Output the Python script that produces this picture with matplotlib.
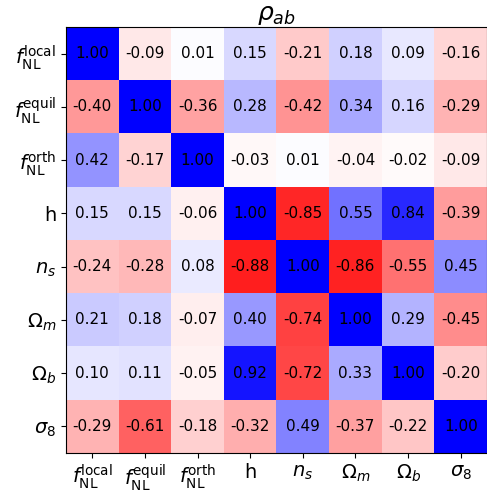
import numpy as np
import matplotlib
matplotlib.use("Agg")
import matplotlib.pyplot as plt

labels = [r"$f_{\rm NL}^{\rm local}$", r"$f_{\rm NL}^{\rm equil}$", r"$f_{\rm NL}^{\rm orth}$",
          "h", r"$n_s$", r"$\Omega_m$", r"$\Omega_b$", r"$\sigma_8$"]

rho = np.array([
    [1.00, -0.09, 0.01, 0.15, -0.21, 0.18, 0.09, -0.16],
    [-0.40, 1.00, -0.36, 0.28, -0.42, 0.34, 0.16, -0.29],
    [0.42, -0.17, 1.00, -0.03, 0.01, -0.04, -0.02, -0.09],
    [0.15, 0.15, -0.06, 1.00, -0.85, 0.55, 0.84, -0.39],
    [-0.24, -0.28, 0.08, -0.88, 1.00, -0.86, -0.55, 0.45],
    [0.21, 0.18, -0.07, 0.40, -0.74, 1.00, 0.29, -0.45],
    [0.10, 0.11, -0.05, 0.92, -0.72, 0.33, 1.00, -0.20],
    [-0.29, -0.61, -0.18, -0.32, 0.49, -0.37, -0.22, 1.00],
])

fig = plt.figure(figsize=(4.87, 4.91), dpi=100)
ax = fig.add_axes([66/487, 1 - 453/491, 421/487, 426/491])
ax.imshow(rho, cmap="bwr_r", vmin=-1, vmax=1, aspect="auto")

n = len(labels)
for i in range(n):
    for j in range(n):
        ax.text(j, i, "%.2f" % rho[i, j], ha="center", va="center", fontsize=11)

ax.set_xticks(range(n))
ax.set_yticks(range(n))
ax.set_xticklabels(labels, fontsize=14)
ax.set_yticklabels(labels, fontsize=14)
ax.set_title(r"$\rho_{ab}$", fontsize=18, pad=4)

fig.savefig("out.png", dpi=100)
